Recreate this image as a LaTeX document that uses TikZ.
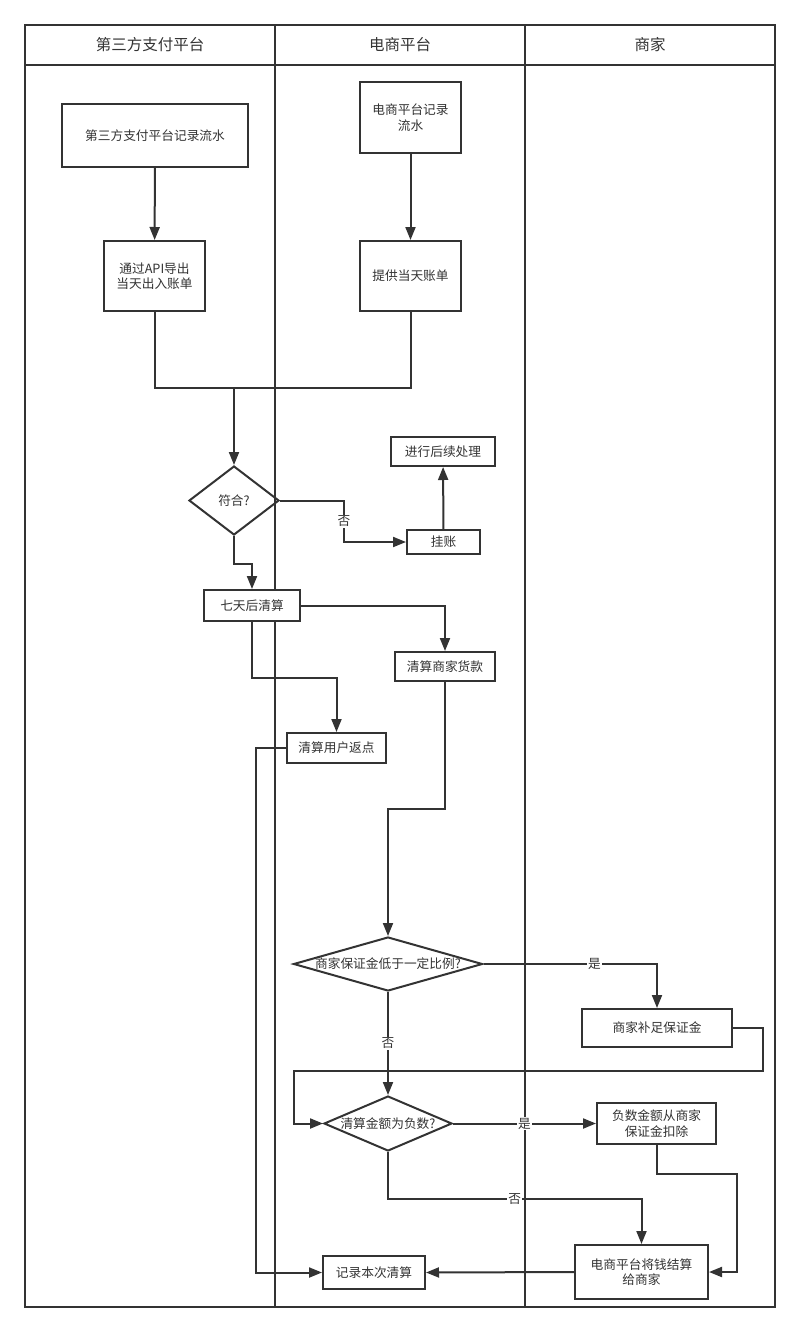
\documentclass[tikz,border=0pt]{standalone}
\usepackage{fontspec}
\newfontfamily\cjk{Noto Sans CJK SC}
\usepackage{tikz}
\usetikzlibrary{arrows.meta,shapes.geometric}
\definecolor{ink}{RGB}{51,51,51}

\begin{document}
\begin{tikzpicture}[x=1pt,y=-1pt,>={Triangle[length=13pt,width=10pt]},
  every node/.style={font=\cjk\fontsize{12.7}{15.5}\selectfont,text=ink},
  proc/.style={draw=ink,line width=2pt,fill=white,inner sep=1pt,align=center},
  decide/.style={diamond,draw=ink,line width=2pt,inner sep=0pt},
  flow/.style={->,draw=ink,line width=2pt},
  link/.style={draw=ink,line width=2pt},
  lbl/.style={fill=white,inner sep=1pt},
  lanehd/.style={font=\cjk\fontsize{15.5}{18}\selectfont}]
\useasboundingbox (0,0) rectangle (800,1333);
% swimlanes
\draw[link] (25,25) rectangle (775,1307);
\draw[link] (25,65) -- (775,65);
\draw[link] (275,25) -- (275,1307);
\draw[link] (525,25) -- (525,1307);
\node[lanehd] (laneA) at (150,45) {第三方支付平台};
\node[lanehd] (laneB) at (400,45) {电商平台};
\node[lanehd] (laneC) at (650,45) {商家};

% steps
\node[proc,minimum width=186pt,minimum height=63pt] (tp1) at (155,135.5) {第三方支付平台记录流水};
\node[proc,minimum width=101pt,minimum height=70pt] (tp2) at (154.5,276) {通过API导出\\当天出入账单};
\node[proc,minimum width=101pt,minimum height=71pt] (ec1) at (410.5,117.5) {电商平台记录\\流水};
\node[proc,minimum width=101pt,minimum height=70pt] (ec2) at (410.5,276) {提供当天账单};
\node[decide,minimum width=90pt,minimum height=69pt] (chk) at (234,500.5) {符合?};
\node[proc,minimum width=73pt,minimum height=24pt] (hang) at (443.5,542) {挂账};
\node[proc,minimum width=104pt,minimum height=29pt] (follow) at (443,451.5) {进行后续处理};
\node[proc,minimum width=96pt,minimum height=31pt] (settle) at (252,605.5) {七天后清算};
\node[proc,minimum width=100pt,minimum height=29pt] (goods) at (445,666.5) {清算商家货款};
\node[proc,minimum width=99pt,minimum height=30pt] (rebate) at (336.5,748) {清算用户返点};
\node[decide,minimum width=189pt,minimum height=54pt] (dep) at (388,964) {};
\node (depT) at (dep.center) {商家保证金低于一定比例?};
\node[proc,minimum width=150pt,minimum height=38pt] (fill) at (657,1028) {商家补足保证金};
\node[decide,minimum width=128pt,minimum height=55pt] (neg) at (388,1123.5) {};
\node (negT) at (neg.center) {清算金额为负数?};
\node[proc,minimum width=119pt,minimum height=41pt] (deduct) at (656.5,1123.5) {负数金额从商家\\保证金扣除};
\node[proc,minimum width=133pt,minimum height=54pt] (pay) at (641.5,1272) {电商平台将钱结算\\给商家};
\node[proc,minimum width=102pt,minimum height=33pt] (rec) at (374,1272.5) {记录本次清算};

% connectors
\coordinate (join) at (234,388);
\coordinate (back) at (294,1071);
\coordinate (drop) at (737,1174);
\draw[flow] (tp1) -- (tp2);
\draw[flow] (ec1) -- (ec2);
\draw[link] (tp2.south) |- (join) -| (ec2.south);
\draw[flow] (join) -- (chk.north);
\draw[flow] (chk.east) -- ++(64,0) |- node[lbl,pos=0.25] (noA) {否} (hang.west);
\draw[flow] (hang) -- (follow);
\draw[flow] (chk.south) -- ++(0,28) -| (settle.north);
\draw[flow] (settle.east) -| (goods.north);
\draw[flow] (settle.south) -- ++(0,56) -| (rebate.north);
\draw[flow] (rebate.west) -- ++(-30,0) |- (rec.west);
\draw[flow] (goods.south) -- ++(0,127) -| (dep.north);
\draw[flow] (dep.east) -| node[lbl,pos=0.32] (yesA) {是} (fill.north);
\draw[flow] (dep.south) -- node[lbl] (noB) {否} (neg.north);
\draw[flow] (fill.east) -- ++(30,0) |- (back) |- (neg.west);
\draw[flow] (neg.east) -- node[lbl] (yesB) {是} (deduct.west);
\draw[flow] (neg.south) -- ++(0,47) -| node[lbl,pos=0.25] (noC) {否} (pay.north);
\draw[flow] (deduct.south) |- (drop) |- (pay.east);
\draw[flow] (pay.west) -- (rec.east);
\end{tikzpicture}
\end{document}
